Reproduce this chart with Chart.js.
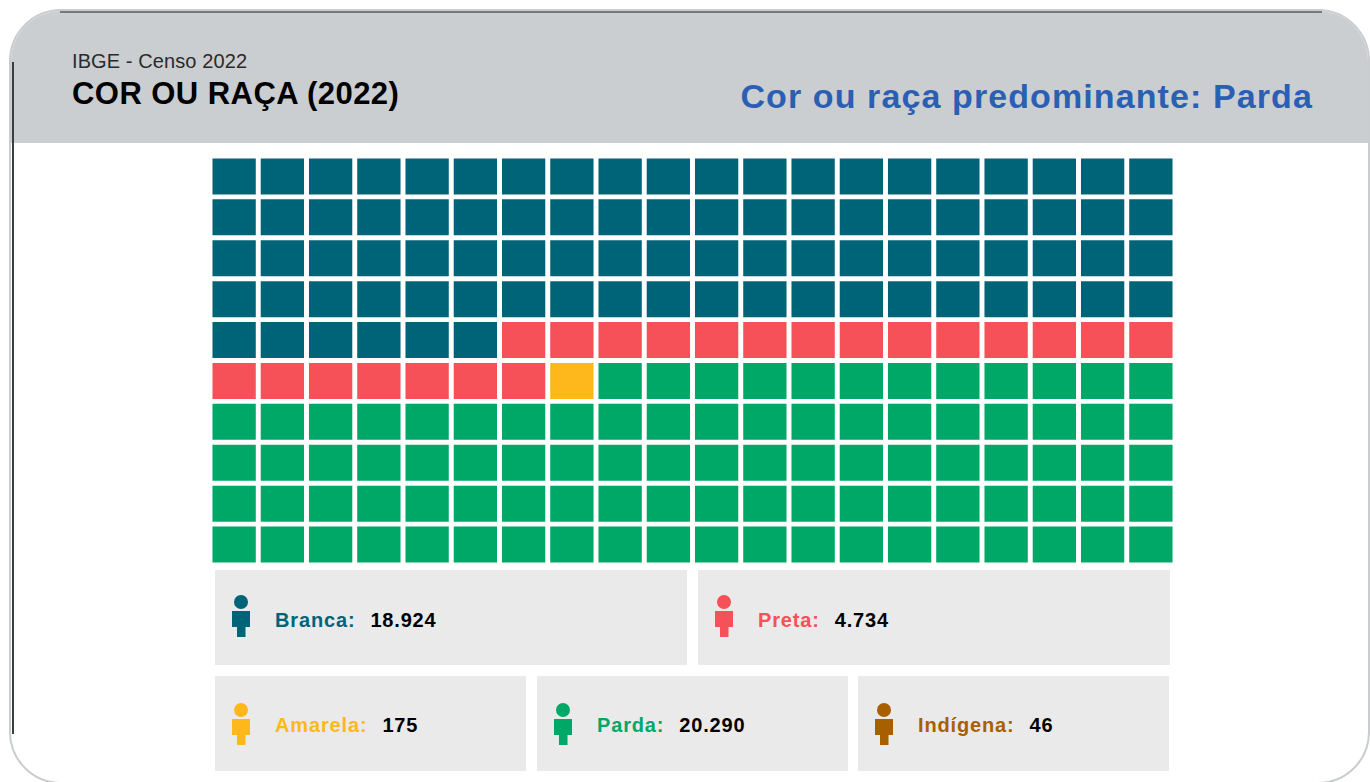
<!DOCTYPE html>
<html lang="pt-BR"><head><meta charset="utf-8"><title>Cor ou raça (2022)</title>
<script src="https://cdn.jsdelivr.net/npm/chart.js@4"></script>
<style>
html,body{margin:0;padding:0;width:1370px;height:782px;overflow:hidden;background:#fff;font-family:"Liberation Sans",Arial,sans-serif}
#frame{position:absolute;left:9px;top:9px;width:1357px;height:771px;border:2px solid #c9cdd0;border-radius:52px;overflow:hidden;background:#fff;box-sizing:content-box}
#head{position:absolute;left:0;top:0;right:0;height:132px;background:#cbced1}
#lineTop{position:absolute;left:60px;width:1262px;top:11px;height:2px;background:#77797c}
#lineLeft{position:absolute;left:12px;top:62px;width:1.5px;height:672px;background:#3c3e40}
#sub{position:absolute;left:72px;top:50px;font-size:20px;line-height:22px;color:#2a2a2a;letter-spacing:.1px;white-space:nowrap}
#title{position:absolute;left:72px;top:76px;font-size:31px;line-height:36px;font-weight:bold;color:#000;letter-spacing:.45px;white-space:nowrap}
#pred{position:absolute;right:57px;top:76px;font-size:34px;line-height:40px;font-weight:bold;color:#2a5fb4;letter-spacing:1.1px;white-space:nowrap}
#wrap{position:absolute;left:210px;top:155.5px;width:965px;height:409px}
.card{position:absolute;background:#eaeaea;height:95px}
.card svg{position:absolute;left:16px;top:25px}
.card.low svg{top:27.5px}
.card .lab{position:absolute;left:60px;top:38px;font-size:20px;line-height:24px;font-weight:bold;white-space:nowrap;letter-spacing:.85px}
.card.low .lab{top:37px}
.card .val{color:#000;margin-left:15px;letter-spacing:.8px}
</style></head><body>
<div id="frame"><div id="head"></div></div>
<div id="lineTop"></div><div id="lineLeft"></div>
<div id="sub">IBGE - Censo 2022</div>
<div id="title">COR OU RAÇA (2022)</div>
<div id="pred">Cor ou raça predominante: Parda</div>
<div id="wrap"><canvas id="c" width="965" height="409"></canvas></div>
<div id="cards"></div>
<script>
const categories = ["Branca","Preta","Amarela","Parda","Indígena"];
const populationLabels = ["18.924","4.734","175","20.290","46"];
const cellCounts = [86,21,1,92,0];
const colors = ["#006479","#f65058","#ffb81c","#00a868","#a85f00"];
const columnLabels = ["1","2","3","4","5","6","7","8","9","10","11","12","13","14","15","16","17","18","19","20"];
const rowLabels = ["1","2","3","4","5","6","7","8","9","10"];
const cardBoxes = [[215,570,472,""],[698,570,472,""],[215,675.5,311,"low"],[537,675.5,311,"low"],[858,675.5,311,"low"]];

const cellColors = [];
cellCounts.forEach((n,i)=>{ for(let k=0;k<n;k++) cellColors.push(colors[i]); });

const datasets = rowLabels.map((r,ri)=>({
  label:"Linha "+r,
  data:columnLabels.map(()=>1),
  backgroundColor:columnLabels.map((c,ci)=>cellColors[ri*columnLabels.length+ci]),
  borderColor:"#fff",
  borderWidth:2.8,
  borderSkipped:false,
  categoryPercentage:1,
  barPercentage:1
}));

new Chart(document.getElementById("c"),{
  type:"bar",
  data:{labels:columnLabels,datasets},
  options:{
    responsive:false,animation:false,
    layout:{padding:0},
    plugins:{legend:{display:false},tooltip:{enabled:false},title:{display:false}},
    scales:{
      x:{stacked:true,display:false},
      y:{stacked:true,display:false,reverse:true,min:0,max:rowLabels.length}
    }
  }
});

const host=document.getElementById("cards");
categories.forEach((name,i)=>{
  const [x,y,w,cls]=cardBoxes[i];
  const d=document.createElement("div");
  d.className="card "+cls;
  d.style.cssText=`left:${x}px;top:${y}px;width:${w}px`;
  d.innerHTML=`<svg width="20" height="42" viewBox="0 0 20 42"><circle cx="10" cy="7" r="7" fill="${colors[i]}"/><rect x="1" y="16" width="18" height="16" fill="${colors[i]}"/><rect x="6" y="31" width="8.5" height="11" fill="${colors[i]}"/></svg>
  <div class="lab" style="color:${colors[i]}">${name}:<span class="val">${populationLabels[i]}</span></div>`;
  host.appendChild(d);
});
</script>
</body></html>
